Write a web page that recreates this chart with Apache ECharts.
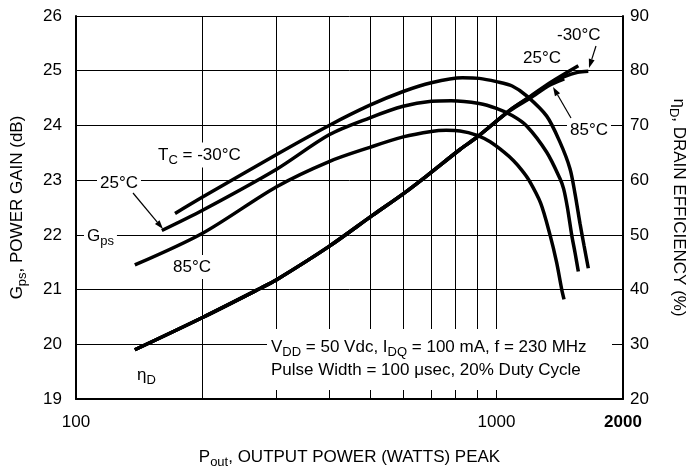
<!DOCTYPE html>
<html>
<head>
<meta charset="utf-8">
<script src="https://cdn.jsdelivr.net/npm/echarts@6/dist/echarts.min.js"></script>
<style>
  html, body { margin: 0; padding: 0; background: #fff; }
  #main { width: 695px; height: 474px; }
</style>
</head>
<body>
<div id="main"></div>
<script>
// Gps curves (dB), x = Pout (W)
var gainX30 = [172, 200, 300, 400, 500, 600, 700, 830, 910, 1000, 1090, 1180, 1317, 1417, 1496, 1538, 1581, 1616, 1654];
var gain30  = [22.39, 22.69, 23.47, 24.0, 24.37, 24.62, 24.78, 24.87, 24.86, 24.8, 24.72, 24.54, 24.17, 23.69, 23.21, 22.75, 22.2, 21.8, 21.39];
var gainX25 = [160, 200, 300, 400, 500, 600, 700, 780, 910, 1000, 1090, 1180, 1317, 1416, 1445, 1475, 1510, 1540, 1566];
var gain25  = [22.08, 22.45, 23.2, 23.83, 24.14, 24.35, 24.44, 24.45, 24.4, 24.31, 24.18, 23.99, 23.51, 23.03, 22.84, 22.5, 22.0, 21.65, 21.33];
var gainX85 = [138, 200, 300, 400, 500, 600, 700, 760, 819, 900, 966, 1039, 1097, 1150, 1195, 1274, 1341, 1390, 1430, 1448];
var gain85  = [21.45, 22.03, 22.88, 23.34, 23.6, 23.79, 23.89, 23.91, 23.9, 23.82, 23.7, 23.52, 23.36, 23.18, 23.0, 22.58, 22.0, 21.5, 21.0, 20.82];

// drain efficiency curves (%)
var effX25 = [138, 200, 274, 300, 400, 508, 600, 683, 819, 897, 1077, 1203, 1341, 1566];
var eff25  = [29.0, 34.9, 40.2, 41.8, 47.9, 53.6, 57.5, 60.8, 65.6, 67.8, 72.8, 75.3, 77.8, 80.9];
var effX30 = [138, 200, 274, 300, 400, 508, 600, 683, 819, 897, 1077, 1203, 1341, 1450, 1560, 1654];
var eff30  = [29.0, 34.9, 40.2, 41.8, 47.9, 53.6, 57.5, 60.8, 65.6, 67.8, 72.8, 75.2, 77.6, 78.9, 79.7, 79.9];
var effX85 = [138, 200, 274, 300, 400, 508, 600, 683, 819, 897, 1077, 1203, 1341, 1450];
var eff85  = [29.0, 34.9, 40.2, 41.8, 47.9, 53.6, 57.5, 60.8, 65.6, 67.8, 72.7, 75.0, 77.4, 78.5];

var xTicks = [100, 1000, 2000];
var gridX = [200, 300, 400, 500, 600, 700, 800, 900, 1000];

var FONT = 'Liberation Sans, Arial, sans-serif';

function pairs(xs, ys) {
    return xs.map(function (x, i) { return [x, ys[i]]; });
}

var rich = {
    n: { fontFamily: FONT, fontSize: 17, lineHeight: 22, color: '#000' },
    s: { fontFamily: FONT, fontSize: 13, padding: [10, 0, 0, 0], color: '#000' }
};

function label(x, y, text, bg) {
    return {
        type: 'text', x: x, y: y, z: 10,
        style: {
            text: text, rich: rich, fill: '#000',
            font: '17px ' + FONT,
            verticalAlign: 'middle', textVerticalAlign: 'middle',
            backgroundColor: bg ? '#fff' : null,
            padding: bg ? [1, 3, 1, 3] : 0
        }
    };
}

function arrow(x1, y1, x2, y2) {
    var a = Math.atan2(y2 - y1, x2 - x1), len = 9, w = 3;
    var bx = x2 - len * Math.cos(a), by = y2 - len * Math.sin(a);
    return [{
        type: 'line', z: 10,
        shape: { x1: x1, y1: y1, x2: bx, y2: by },
        style: { stroke: '#000', lineWidth: 1.2 }
    }, {
        type: 'polygon', z: 10,
        shape: { points: [[x2, y2], [bx + w * Math.sin(a), by - w * Math.cos(a)], [bx - w * Math.sin(a), by + w * Math.cos(a)]] },
        style: { fill: '#000' }
    }];
}

function curve(name, data, yIdx) {
    return {
        name: name, type: 'line', yAxisIndex: yIdx,
        data: data, smooth: 0.3, showSymbol: false, z: 3,
        lineStyle: { color: '#000', width: 3.5, cap: 'butt' }
    };
}

var chart = echarts.init(document.getElementById('main'));

chart.setOption({
    animation: false,
    backgroundColor: '#fff',
    grid: { left: 76, right: 72, top: 16, bottom: 72 },
    xAxis: {
        type: 'log', logBase: 10, min: 100, max: 2000,
        name: '{n|P}{s|out}{n|, OUTPUT POWER (WATTS) PEAK}',
        nameLocation: 'middle', nameGap: 47,
        nameTextStyle: { rich: rich },
        axisLine: { lineStyle: { color: '#000', width: 2 } },
        axisTick: { show: false },
        splitLine: { show: false },
        axisLabel: {
            customValues: xTicks,
            margin: 15,
            fontFamily: FONT, fontSize: 17, color: '#000',
            formatter: function (v) { return v === 2000 ? '{b|2000}' : String(v); },
            rich: { b: { fontFamily: FONT, fontSize: 17, fontWeight: 'bold', color: '#000' } }
        }
    },
    yAxis: [{
        type: 'value', min: 19, max: 26, interval: 1, position: 'left',
        name: '{n|G}{s|ps}{n|, POWER GAIN (dB)}',
        nameLocation: 'middle', nameGap: 47, nameRotate: 90,
        nameTextStyle: { rich: rich },
        axisLine: { show: true, lineStyle: { color: '#000', width: 2 } },
        axisTick: { show: false },
        axisLabel: { margin: 14, fontFamily: FONT, fontSize: 17, color: '#000' },
        splitLine: { lineStyle: { color: '#000', width: 1 } }
    }, {
        type: 'value', min: 20, max: 90, interval: 10, position: 'right',
        name: '{n|\u03b7}{s|D}{n|, DRAIN EFFICIENCY (%)}',
        nameLocation: 'middle', nameGap: 44, nameRotate: -90,
        nameTextStyle: { rich: rich },
        axisLine: { show: true, lineStyle: { color: '#000', width: 2 } },
        axisTick: { show: false },
        axisLabel: { margin: 7, fontFamily: FONT, fontSize: 17, color: '#000' },
        splitLine: { show: false }
    }],
    series: [
        {
            type: 'line', data: [], z: 1, silent: true,
            markLine: {
                silent: true, symbol: 'none', animation: false,
                label: { show: false },
                lineStyle: { color: '#000', width: 1, type: 'solid' },
                data: gridX.map(function (v) { return { xAxis: v }; })
            }
        },
        curve('Gps -30', pairs(gainX30, gain30), 0),
        curve('Gps 25', pairs(gainX25, gain25), 0),
        curve('Gps 85', pairs(gainX85, gain85), 0),
        curve('eta -30', pairs(effX30, eff30), 1),
        curve('eta 25', pairs(effX25, eff25), 1),
        curve('eta 85', pairs(effX85, eff85), 1)
    ],
    graphic: [].concat(
        [label(155, 155, '{n|T}{s|C}{n| = -30\u00b0C}', true),
         label(97, 183, '{n|25\u00b0C}', true),
         label(84, 236, '{n|G}{s|ps}', true),
         label(170, 267, '{n|85\u00b0C}', true),
         label(137, 375, '{n|\u03b7}{s|D}', false),
         label(557, 35, '{n|-30\u00b0C}', false),
         label(523, 58, '{n|25\u00b0C}', false),
         label(567, 130, '{n|85\u00b0C}', true),
         { type: 'rect', z: 9, shape: { x: 267, y: 329, width: 345, height: 61 }, style: { fill: '#fff' } },
         label(271, 347, '{n|V}{s|DD}{n| = 50 Vdc, I}{s|DQ}{n| = 100 mA, f = 230 MHz}', false),
         label(271, 370, '{n|Pulse Width = 100 \u03bcsec, 20% Duty Cycle}', false)],
        arrow(133, 193, 163, 229),
        arrow(596, 46, 589, 68),
        arrow(571, 118, 553, 87)
    )
});
</script>
</body>
</html>
